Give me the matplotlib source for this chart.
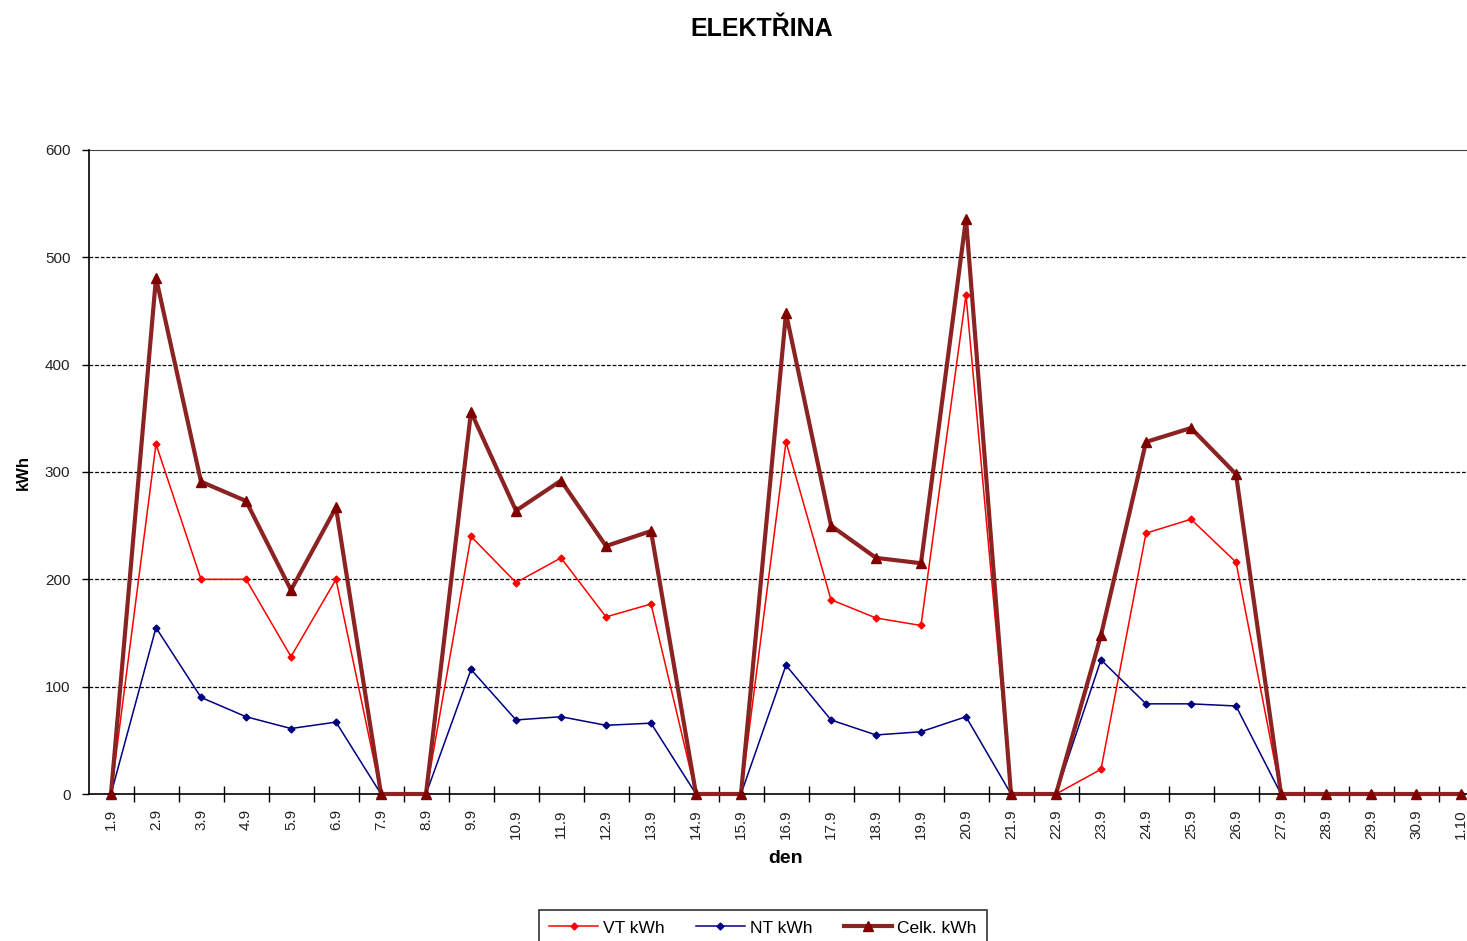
import numpy as np
import matplotlib
matplotlib.use("Agg")
import matplotlib.pyplot as plt
from matplotlib.ticker import FixedLocator

plt.rcParams['font.family'] = ['Liberation Sans', 'DejaVu Sans']

# days of September + 1.10
dny = [f"{d}.9" for d in range(1, 31)] + ["1.10"]

vt = [0, 326, 200, 200, 128, 200, 0, 0, 240, 197, 220, 165, 177, 0, 0,
      328, 181, 164, 157, 465, 0, 0, 23, 243, 256, 216, 0, 0, 0, 0, 0]
nt = [0, 155, 90, 72, 61, 67, 0, 0, 116, 69, 72, 64, 66, 0, 0,
      120, 69, 55, 58, 72, 0, 0, 125, 84, 84, 82, 0, 0, 0, 0, 0]
celk = [0, 481, 291, 273, 190, 267, 0, 0, 356, 264, 292, 231, 245, 0, 0,
        448, 250, 220, 215, 536, 0, 0, 148, 328, 341, 298, 0, 0, 0, 0, 0]

W, H = 1467, 941
fig = plt.figure(figsize=(W/100, H/100), dpi=100)
ax = fig.add_axes([88.5/W, 147/H, 1395/W, 644/H])

x = np.arange(len(dny))
l1, = ax.plot(x, vt, color='#ff0000', lw=1.1, marker='D', ms=3.5,
              mfc='#ff0000', mec='#ff0000', label='VT kWh', zorder=3,
              clip_on=False)
l2, = ax.plot(x, nt, color='#000080', lw=1.1, marker='D', ms=3.5,
              mfc='#000080', mec='#000080', label='NT kWh', zorder=3,
              clip_on=False)
l3, = ax.plot(x, celk, color='#8b2323', lw=3, marker='^', ms=7.5,
              mfc='#800000', mec='#800000', label='Celk. kWh', zorder=6,
              clip_on=False)

ax.set_xlim(-0.5, len(dny) - 0.5)
ax.set_ylim(0, 600)
ax.set_yticks(range(0, 601, 100))
ax.set_xticks(x)
ax.set_xticklabels(dny, rotation=90, fontsize=11, color='#222222')
ax.tick_params(axis='x', length=0, pad=11)
ax.xaxis.set_minor_locator(FixedLocator(x[:-1] + 0.5))
ax.tick_params(axis='x', which='minor', direction='inout', length=12, width=1)
ax.tick_params(axis='y', direction='out', length=5, width=1, labelsize=11,
               labelcolor='#222222', pad=8)

for v in range(100, 600, 100):
    ax.axhline(v, color='black', lw=0.9, ls=(0, (3, 1.5)), zorder=1)

for s in ['left', 'bottom']:
    ax.spines[s].set_linewidth(1.2)
    ax.spines[s].set_zorder(5)
ax.spines['top'].set_linewidth(0.8)
ax.spines['top'].set_color('#444444')
ax.spines['right'].set_visible(False)

ax.set_ylabel('kWh', fontsize=12, fontweight='bold', labelpad=10)
ax.set_xlabel('den', fontsize=14, fontweight='bold', labelpad=8)
fig.text(762/W, 1 - 29/H, 'ELEKTŘINA', ha='center', va='center',
         fontsize=18, fontweight='bold')

leg = fig.legend(handles=[l1, l2, l3], loc='upper center', ncol=3,
                 bbox_to_anchor=(763/W, 1 - 910/H), frameon=True,
                 fancybox=False, edgecolor='black', fontsize=12.5,
                 handlelength=2.8, handletextpad=0.3, columnspacing=1.8,
                 borderpad=0.6, borderaxespad=0)
leg.get_frame().set_linewidth(1.2)

fig.savefig('out.png', dpi=100)
